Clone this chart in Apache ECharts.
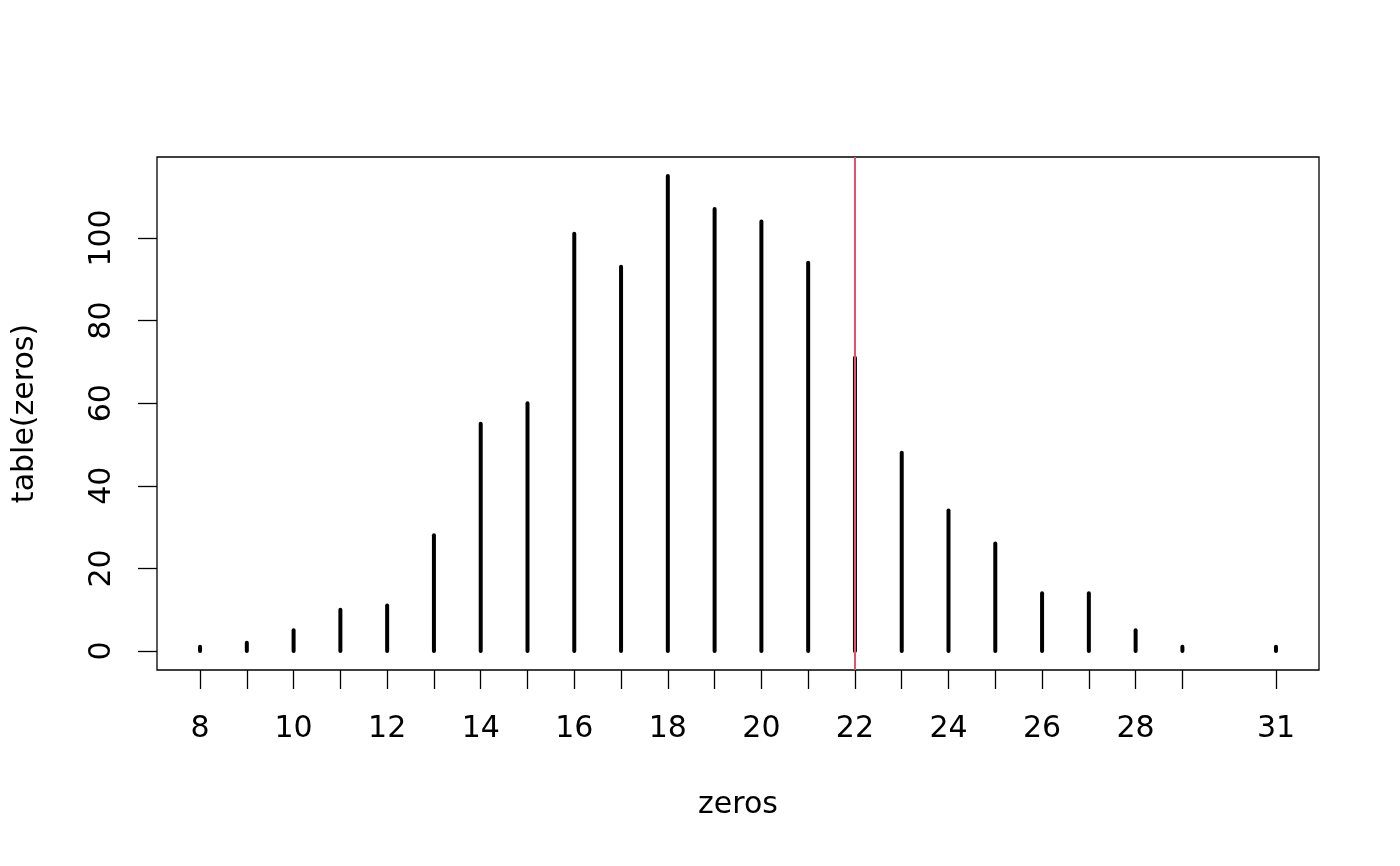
<!DOCTYPE html>
<html>
<head>
<meta charset="utf-8">
<script src="https://cdn.jsdelivr.net/npm/echarts@6/dist/echarts.min.js"></script>
<style>html,body{margin:0;padding:0;background:#fff}#c{width:1400px;height:866px}</style>
</head>
<body>
<div id="c"></div>
<script>
const categories = [8, 9, 10, 11, 12, 13, 14, 15, 16, 17, 18, 19, 20, 21, 22, 23, 24, 25, 26, 27, 28, 29, 31];
const counts = [1, 2, 5, 10, 11, 28, 55, 60, 101, 93, 115, 107, 104, 94, 71, 48, 34, 26, 14, 14, 5, 1, 1];
const xTickLabels = [8, 10, 12, 14, 16, 18, 20, 22, 24, 26, 28, 31];
const yTickLabels = [0, 20, 40, 60, 80, 100];
const refLine = 22;

const FONT = 'DejaVu Sans';
const chart = echarts.init(document.getElementById('c'));
const xMin = 8 - 0.04 * (31 - 8), xMax = 31 + 0.04 * (31 - 8);
const yMin = -0.04 * 115, yMax = 115 + 0.04 * 115;

chart.setOption({
  animation: false,
  backgroundColor: '#fff',
  grid: { left: 157, right: 81, top: 157, bottom: 196, show: true, borderColor: '#000', borderWidth: 1.3, backgroundColor: 'transparent', containLabel: false, outerBoundsMode: 'none' },
  xAxis: {
    type: 'value', min: xMin, max: xMax,
    name: 'zeros', nameLocation: 'middle', nameGap: 120,
    nameTextStyle: { fontFamily: FONT, fontSize: 30, color: '#000' },
    axisLine: { show: false, onZero: false },
    splitLine: { show: false },
    axisTick: { show: true, inside: false, length: 19, customValues: categories, lineStyle: { color: '#000', width: 1.3 } },
    axisLabel: { customValues: xTickLabels, margin: 44, fontFamily: FONT, fontSize: 30, color: '#000' }
  },
  yAxis: {
    type: 'value', min: yMin, max: yMax,
    name: 'table(zeros)', nameLocation: 'middle', nameGap: 117, nameRotate: 90,
    nameTextStyle: { fontFamily: FONT, fontSize: 30, color: '#000' },
    axisLine: { show: false, onZero: false },
    splitLine: { show: false },
    axisTick: { show: true, inside: false, length: 19, customValues: yTickLabels, lineStyle: { color: '#000', width: 1.3 } },
    axisLabel: { customValues: yTickLabels, rotate: 90, margin: 40, fontFamily: FONT, fontSize: 30, color: '#000' }
  },
  series: [
    {
      type: 'custom',
      data: categories.map((c, i) => [c, counts[i]]),
      renderItem: function (params, api) {
        const p0 = api.coord([api.value(0), 0]);
        const p1 = api.coord([api.value(0), api.value(1)]);
        return {
          type: 'line',
          shape: { x1: p0[0], y1: p0[1], x2: p1[0], y2: p1[1] },
          style: { stroke: '#000', lineWidth: 4, lineCap: 'round' }
        };
      },
      z: 2
    },
    {
      type: 'scatter',
      data: [],
      z: 3,
      markLine: {
        silent: true, symbol: 'none', animation: false,
        label: { show: false },
        lineStyle: { color: '#DF536B', width: 2, type: 'solid' },
        data: [{ xAxis: refLine }]
      }
    }
  ]
});
</script>
</body>
</html>
